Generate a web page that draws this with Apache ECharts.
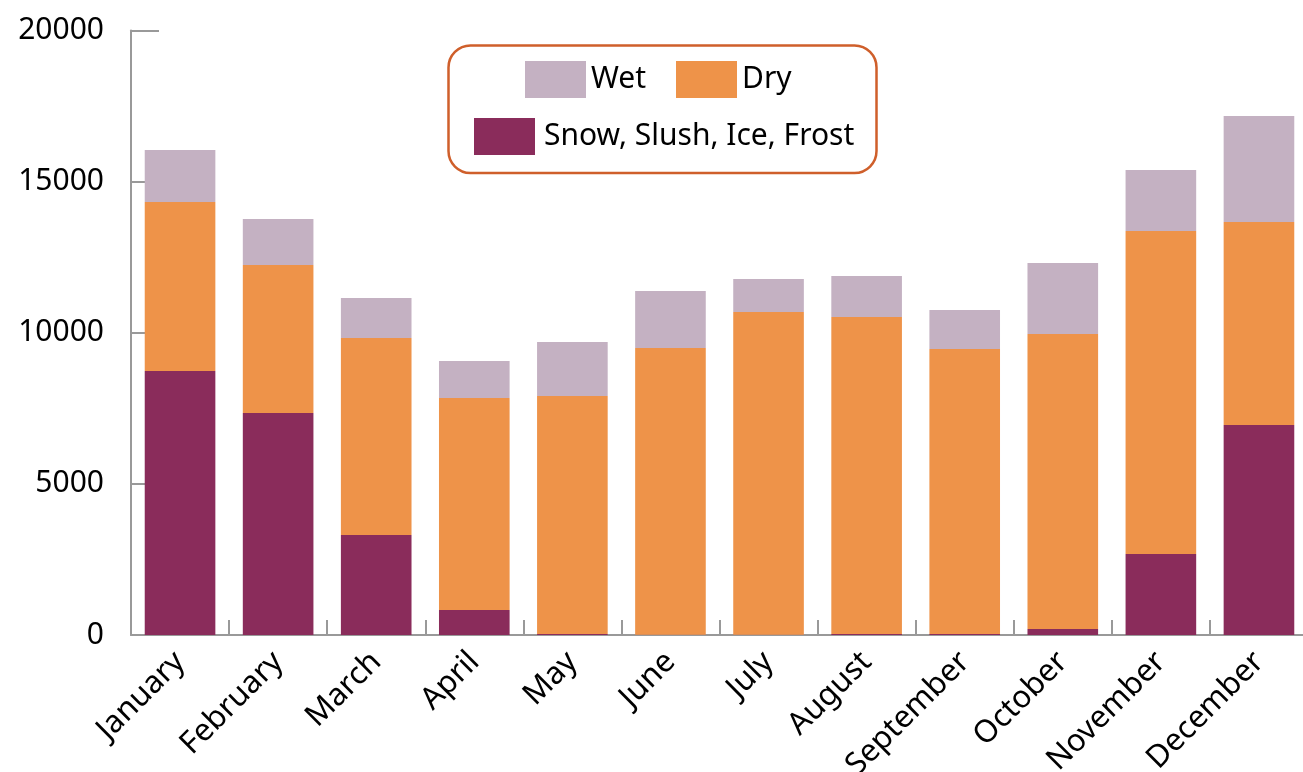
<!DOCTYPE html>
<html>
<head>
<meta charset="utf-8">
<script src="https://cdn.jsdelivr.net/npm/echarts@6.0.0/dist/echarts.min.js"></script>
<style>
  html, body { margin: 0; padding: 0; background: #fff; }
  #chart { width: 1303px; height: 772px; }
</style>
</head>
<body>
<div id="chart"></div>
<script>
var months = ['January', 'February', 'March', 'April', 'May', 'June', 'July',
  'August', 'September', 'October', 'November', 'December']
// stacked from bottom: snow, dry, wet
var snow = [8735, 7345, 3309, 827, 30, 10, 5, 30, 30, 200, 2680, 6948]
var dry = [5591, 4897, 6517, 7014, 7877, 9485, 10682, 10491, 9432, 9759, 10686, 6716]
var wet = [1720, 1521, 1324, 1224, 1787, 1886, 1091, 1357, 1291, 2349, 2019, 3507]
var yTicks = [0, 5000, 10000, 15000, 20000]

var font = 'Noto Sans'
var axisGray = '#999999'

var myChart = echarts.init(document.getElementById('chart'))

function legendText(padLeft) {
  return {
    color: '#000',
    fontSize: 30,
    fontFamily: font,
    padding: [9, 0, 0, padLeft]
  }
}

myChart.setOption({
  animation: false,
  grid: {
    left: 131,
    right: -5,
    top: 30.5,
    bottom: 137,
    containLabel: false,
    outerBoundsMode: 'none'
  },
  legend: [{
    data: ['Wet'],
    left: 525,
    top: 61,
    padding: 0,
    itemWidth: 61,
    itemHeight: 37,
    selectedMode: false,
    icon: 'rect',
    textStyle: legendText(0)
  }, {
    data: ['Dry'],
    left: 676,
    top: 61,
    padding: 0,
    itemWidth: 61,
    itemHeight: 37,
    selectedMode: false,
    icon: 'rect',
    textStyle: legendText(0)
  }, {
    data: ['Snow, Slush, Ice, Frost'],
    left: 474,
    top: 118,
    padding: 0,
    itemWidth: 61,
    itemHeight: 37,
    selectedMode: false,
    icon: 'rect',
    textStyle: legendText(4)
  }],
  graphic: [{
    type: 'rect',
    shape: { x: 448.5, y: 45.5, width: 428, height: 127.5, r: 22 },
    style: { fill: 'none', stroke: '#cf5f2b', lineWidth: 2.5 },
    z: 10
  }],
  xAxis: {
    type: 'category',
    data: months,
    boundaryGap: true,
    axisLine: { lineStyle: { color: axisGray, width: 2 } },
    axisTick: {
      show: true,
      inside: true,
      length: 15,
      lineStyle: { color: axisGray, width: 2 }
    },
    axisLabel: {
      interval: 0,
      rotate: 45,
      margin: 22,
      color: '#000',
      fontSize: 31,
      fontFamily: font
    }
  },
  yAxis: {
    type: 'value',
    min: yTicks[0],
    max: yTicks[yTicks.length - 1],
    interval: yTicks[1] - yTicks[0],
    splitLine: { show: false },
    axisLine: { show: true, lineStyle: { color: axisGray, width: 2 } },
    axisTick: {
      show: true,
      inside: true,
      length: 28,
      lineStyle: { color: axisGray, width: 2 }
    },
    axisLabel: {
      margin: 27,
      color: '#000',
      fontSize: 30,
      fontFamily: font,
      padding: [0, 0, 6, 0],
      formatter: function(v) {
        return String(v)
      }
    }
  },
  series: [{
    name: 'Snow, Slush, Ice, Frost',
    type: 'bar',
    stack: 'total',
    barWidth: '72%',
    data: snow,
    itemStyle: { color: '#8a2c5b' }
  }, {
    name: 'Dry',
    type: 'bar',
    stack: 'total',
    data: dry,
    itemStyle: { color: '#ee9349' }
  }, {
    name: 'Wet',
    type: 'bar',
    stack: 'total',
    data: wet,
    itemStyle: { color: '#c4b1c2' }
  }]
})
</script>
</body>
</html>
